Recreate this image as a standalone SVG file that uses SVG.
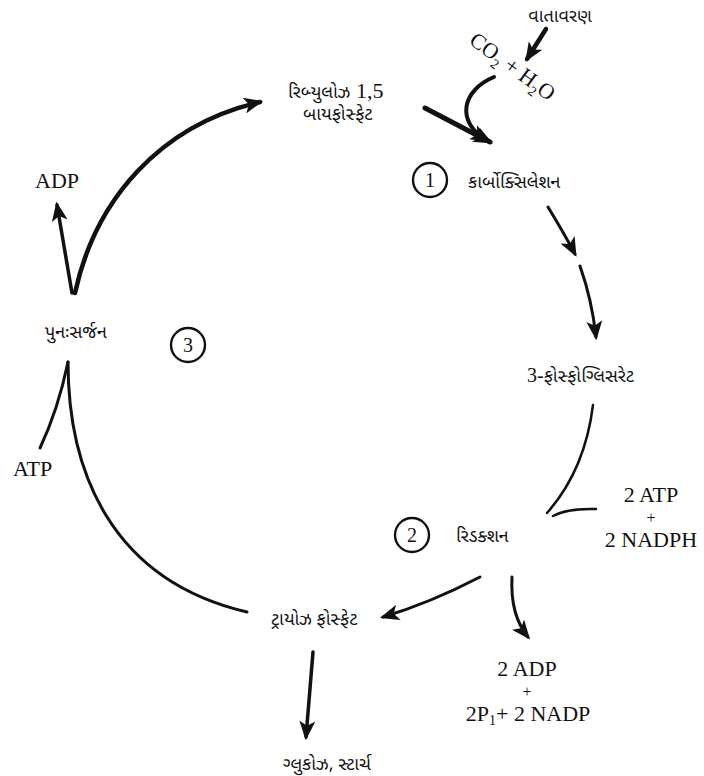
<svg xmlns="http://www.w3.org/2000/svg" width="704" height="776" viewBox="0 0 704 776">
<style>
.g{font-family:"Noto Sans Gujarati","Noto Sans","DejaVu Sans",sans-serif;font-size:18px;fill:#111}
.s{font-family:"Liberation Serif",serif;font-size:22px;fill:#111}
.n{font-family:"Liberation Serif",serif;font-size:20px;fill:#111;text-anchor:middle}
.p{font-size:16px}
.c{fill:none;stroke:#111;stroke-width:2.4}
.l{fill:none;stroke:#111;stroke-linecap:round}
</style>
<defs>
<marker id="ah" viewBox="0 0 12 10" refX="10" refY="5" markerWidth="20" markerHeight="16" markerUnits="userSpaceOnUse" orient="auto">
<path d="M0,0 L12,5 L0,10 L3,5 z" fill="#111"/>
</marker>
</defs>
<rect width="704" height="776" fill="#fff"/>
<g id="connectors">
<path class="l" stroke-width="4.5" d="M75,293 C95,200 160,125 260,102" marker-end="url(#ah)"/>
<path class="l" stroke-width="3.5" d="M72,293 Q64,245 57,205" marker-end="url(#ah)"/>
<path class="l" stroke-width="5" d="M425,108 L490,142" marker-end="url(#ah)"/>
<path class="l" stroke-width="4" d="M494,77 C462,90 455,122 487,140" marker-end="url(#ah)"/>
<path class="l" stroke-width="4.5" d="M546,29 L527,59" marker-end="url(#ah)"/>
<path class="l" stroke-width="3" d="M548,207 Q565,235 575,254" marker-end="url(#ah)"/>
<path class="l" stroke-width="3" d="M580,266 Q592,300 596,337" marker-end="url(#ah)"/>
<path class="l" stroke-width="2.5" d="M593,405 Q585,470 547,513"/>
<path class="l" stroke-width="2.5" d="M553,516 Q568,508 596,509"/>
<path class="l" stroke-width="3" d="M480,577 Q430,603 383,617" marker-end="url(#ah)"/>
<path class="l" stroke-width="3" d="M512,577 Q510,615 528,637" marker-end="url(#ah)"/>
<path class="l" stroke-width="3.5" d="M313,652 L306,737" marker-end="url(#ah)"/>
<path class="l" stroke-width="3" d="M247,612 C110,580 68,470 68,362"/>
<path class="l" stroke-width="3" d="M40,448 Q58,410 68,362"/>
</g>
<g id="atmosphere"><text class="g" x="560" y="22" text-anchor="middle" font-size="17">વાતાવરણ</text></g>
<g id="co2-h2o">
<text class="s" font-size="22" transform="translate(468,43) rotate(36)">CO<tspan font-size="14" dy="6">2</tspan><tspan dy="-6"> + H</tspan><tspan font-size="14" dy="6">2</tspan><tspan dy="-6">O</tspan></text>
</g>
<g id="rubp">
<text class="g" x="288" y="98">રિબ્યુલોઝ<tspan style="font-family:'Liberation Serif',serif" font-size="22"> 1,5</tspan></text>
<text class="g" x="303" y="120" font-size="16">બાયફોસ્ફેટ</text>
</g>
<g id="carboxylation">
<circle class="c" cx="430" cy="180" r="17"/>
<text class="n" x="430" y="187">1</text>
<text class="g" x="468" y="188">કાર્બોક્સિલેશન</text>
</g>
<g id="pga">
<text class="g" x="527" y="382"><tspan style="font-family:'Liberation Serif',serif" font-size="20">3-</tspan>ફોસ્ફોગ્લિસરેટ</text>
</g>
<g id="reduction">
<circle class="c" cx="412" cy="535" r="17"/>
<text class="n" x="412" y="542">2</text>
<text class="g" x="456" y="542" font-size="17">રિડક્શન</text>
</g>
<g id="atp-nadph">
<text class="s" text-anchor="middle"><tspan x="651" y="502">2 ATP</tspan><tspan class="p" x="651" y="523">+</tspan><tspan x="651" y="547">2 NADPH</tspan></text>
</g>
<g id="triose">
<text class="g" x="271" y="625">ટ્રાયોઝ ફોસ્ફેટ</text>
</g>
<g id="adp-nadp">
<text class="s" text-anchor="middle"><tspan x="527" y="676">2 ADP</tspan><tspan class="p" x="527" y="697">+</tspan><tspan x="528" y="721">2P</tspan><tspan font-size="14" dy="4">1</tspan><tspan dy="-4">+ 2 NADP</tspan></text>
</g>
<g id="glucose">
<text class="g" x="283" y="770" font-size="17">ગ્લુકોઝ, સ્ટાર્ચ</text>
</g>
<g id="regeneration">
<text class="g" x="45" y="338">પુનઃસર્જન</text>
<circle class="c" cx="188" cy="345" r="17"/>
<text class="n" x="188" y="352">3</text>
</g>
<g id="adp"><text class="s" x="35" y="188">ADP</text></g>
<g id="atp"><text class="s" x="13" y="476">ATP</text></g>
</svg>
